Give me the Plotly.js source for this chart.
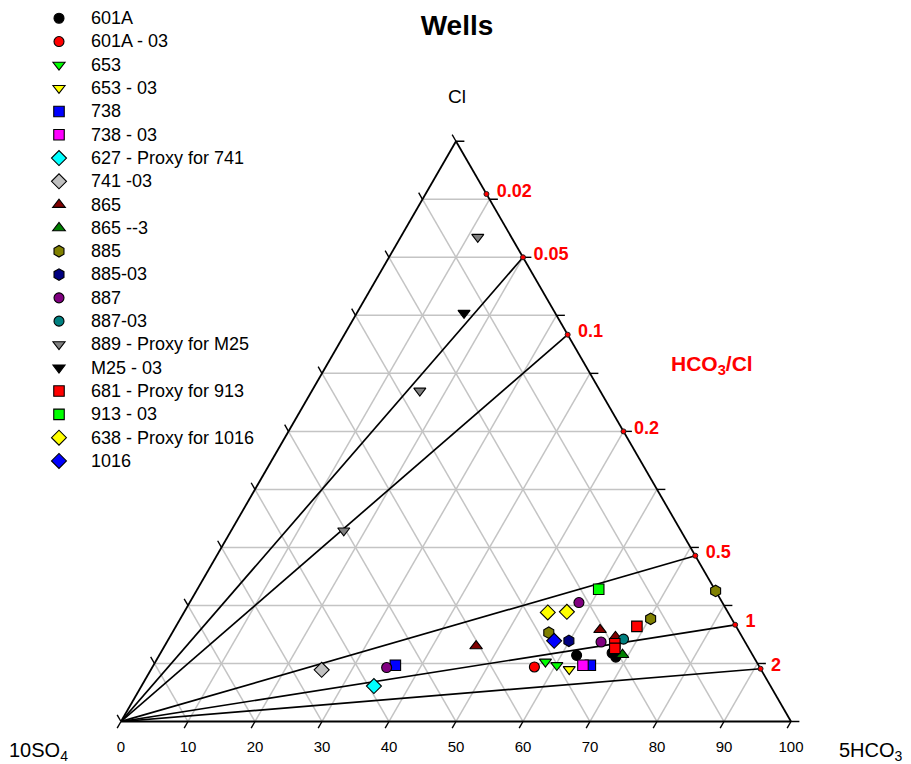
<!DOCTYPE html>
<html>
<head>
<meta charset="utf-8">
<script src="https://cdn.plot.ly/plotly-3.0.1.min.js"></script>
<style>
  html, body { margin: 0; padding: 0; background: #ffffff; }
  #chart { width: 911px; height: 764px; }
</style>
</head>
<body>
<div id="chart"></div>
<script>
// Well samples, each point given as [Cl, 10SO4, 5HCO3] in percent of the sum
const s601A     = [[11.4, 26.3, 62.3], [11.8, 20.8, 67.4], [11.1, 20.6, 68.3]];
const s601A_03  = [[9.4, 33.6, 57.0]];
const s653      = [[10.3, 31.5, 58.2], [9.7, 30.1, 60.2]];
const s653_03   = [[9.0, 28.6, 62.4]];
const s738      = [[9.7, 54.2, 36.1], [9.7, 25.1, 65.2]];
const s738_03   = [[9.7, 26.2, 64.1]];
const s627      = [[6.1, 59.2, 34.7]];
const s741_03   = [[8.9, 65.6, 25.5]];
const s865      = [[13.0, 40.5, 46.5], [15.8, 20.6, 63.6], [14.6, 18.9, 66.5]];
const s865_3    = [[11.5, 19.4, 69.1]];
const s885      = [[22.5, 0.0, 77.5], [17.7, 12.1, 70.2], [15.3, 28.5, 56.2]];
const s885_03   = [[13.9, 26.2, 59.9]];
const s887      = [[20.5, 21.4, 58.1], [13.7, 21.5, 64.8], [9.3, 55.7, 35.0]];
const s887_03   = [[14.2, 17.9, 67.9]];
const s889      = [[83.5, 5.0, 11.5], [57.0, 26.9, 16.1], [32.9, 50.3, 16.8]];
const sM25_03   = [[70.4, 13.6, 16.0]];
const s681      = [[16.4, 14.8, 68.8], [13.4, 19.6, 67.0], [12.6, 20.0, 67.4]];
const s913_03   = [[22.8, 17.3, 59.9]];
const s638      = [[18.8, 26.9, 54.3], [18.9, 24.0, 57.1]];
const s1016     = [[13.9, 28.4, 57.7]];

const seriesNames = [
  '601A', '601A - 03', '653', '653 - 03', '738', '738 - 03',
  '627 - Proxy for 741', '741 -03', '865', '865 --3', '885', '885-03',
  '887', '887-03', '889 - Proxy for M25', 'M25 - 03',
  '681 - Proxy for 913', '913 - 03', '638 - Proxy for 1016', '1016'
];
const seriesData = [
  s601A, s601A_03, s653, s653_03, s738, s738_03,
  s627, s741_03, s865, s865_3, s885, s885_03,
  s887, s887_03, s889, sM25_03,
  s681, s913_03, s638, s1016
];

// Marker styling per series
const seriesSymbols = [
  'circle', 'circle', 'triangle-down', 'triangle-down', 'square', 'square',
  'diamond', 'diamond', 'triangle-up', 'triangle-up', 'hexagon', 'hexagon',
  'circle', 'circle', 'triangle-down', 'triangle-down',
  'square', 'square', 'diamond', 'diamond'
];
const seriesColors = [
  '#000000', '#ff0000', '#00ff00', '#ffff00', '#0000ff', '#ff00ff',
  '#00ffff', '#c0c0c0', '#800000', '#008000', '#808000', '#000080',
  '#800080', '#008080', '#808080', '#000000',
  '#ff0000', '#00ff00', '#ffff00', '#0000ff'
];
const symbolSizes = {
  'circle': 10, 'square': 10.5, 'diamond': 11.5, 'hexagon': 11.5,
  'triangle-up': 11, 'triangle-down': 10.5
};

// HCO3/Cl ratio guides on the Cl-5HCO3 edge
const hco3ClRatios = [0.02, 0.05, 0.1, 0.2, 0.5, 1, 2];
const ratioLabels  = ['0.02', '0.05', '0.1', '0.2', '0.5', '1', '2'];
const ratioRays    = [0.05, 0.1, 0.5, 1, 2];

// Scale values along each edge (percent)
const edgeTickValues = [0, 10, 20, 30, 40, 50, 60, 70, 80, 90, 100];

const FIG_W = 911, FIG_H = 764;
const SUM = 100;
const FONT = 'Liberation Sans, Arial, Helvetica, sans-serif';
const SQ3 = Math.sqrt(3) / 2;

// Triangle placement on the page: base-left corner and side length (px)
const ORIGIN_X = 121, ORIGIN_Y = 721.5, SIDE = 670;
const PX = SIDE / SUM;                 // pixels per percent
const TRI_H = SIDE * SQ3;

// Companion cartesian frame sharing the triangle's scale, used for edge ticks and labels
const X_RANGE = [-15, 115];
const Y_RANGE = [-5, 100];
const xDom = [(ORIGIN_X + X_RANGE[0] * PX) / FIG_W, (ORIGIN_X + X_RANGE[1] * PX) / FIG_W];
const yDom = [1 - (ORIGIN_Y - Y_RANGE[0] * PX) / FIG_H, 1 - (ORIGIN_Y - Y_RANGE[1] * PX) / FIG_H];

// Ternary (Cl, 10SO4, 5HCO3) -> cartesian position in percent units
function toXY(cl, so4, hco3) {
  const s = cl + so4 + hco3;
  const a = cl * SUM / s, c = hco3 * SUM / s;
  return [c + a / 2, a * SQ3];
}

// Point on the Cl-5HCO3 edge where 5HCO3 / (5 * Cl) equals the ratio
function ratioPoint(r) {
  const cl = SUM / (1 + 5 * r);
  return { a: cl, b: 0, c: SUM - cl };
}

const traces = [];

// Rays from the 10SO4 corner to the ratio points
const rayA = [], rayB = [], rayC = [];
ratioRays.forEach(r => {
  const p = ratioPoint(r);
  rayA.push(0, p.a, null);
  rayB.push(SUM, p.b, null);
  rayC.push(0, p.c, null);
});
traces.push({
  type: 'scatterternary', mode: 'lines',
  a: rayA, b: rayB, c: rayC,
  line: { color: '#000000', width: 1.7 },
  connectgaps: false, showlegend: false, hoverinfo: 'skip'
});

// Edge ticks: short outward strokes continuing the grid directions
const SLANT_LEN = 1.15, FLAT_LEN = 1.25;
const tickX = [], tickY = [];
edgeTickValues.forEach(v => {
  // base edge (5HCO3 scale): down-left along constant-5HCO3 lines
  let p = toXY(0, SUM - v, v);
  tickX.push(p[0], p[0] - SLANT_LEN * 0.5, null);
  tickY.push(p[1], p[1] - SLANT_LEN * SQ3, null);
  // left edge (10SO4 scale): up-left along constant-10SO4 lines
  p = toXY(SUM - v, v, 0);
  tickX.push(p[0], p[0] - SLANT_LEN * 0.5, null);
  tickY.push(p[1], p[1] + SLANT_LEN * SQ3, null);
  // right edge (Cl scale): horizontal along constant-Cl lines
  p = toXY(v, 0, SUM - v);
  tickX.push(p[0], p[0] + FLAT_LEN, null);
  tickY.push(p[1], p[1], null);
});
traces.push({
  type: 'scatter', mode: 'lines', xaxis: 'x', yaxis: 'y',
  x: tickX, y: tickY, connectgaps: false,
  line: { color: '#000000', width: 1.4 },
  showlegend: false, hoverinfo: 'skip'
});

// Ratio labels beside the edge points
const LABEL_DX = 1.55, LABEL_DY = 0.3;
const ratioXY = hco3ClRatios.map(r => {
  const p = ratioPoint(r);
  return toXY(p.a, p.b, p.c);
});
traces.push({
  type: 'scatter', mode: 'text', xaxis: 'x', yaxis: 'y',
  x: ratioXY.map(p => p[0] + LABEL_DX), y: ratioXY.map(p => p[1] + LABEL_DY),
  text: ratioLabels, textposition: 'middle right', cliponaxis: false,
  textfont: { family: FONT, size: 18, color: '#ff0000', weight: 'bold' },
  showlegend: false, hoverinfo: 'skip'
});

// Ratio end points on the edge
const ratioPts = hco3ClRatios.map(ratioPoint);
traces.push({
  type: 'scatterternary', mode: 'markers',
  a: ratioPts.map(p => p.a), b: ratioPts.map(p => p.b), c: ratioPts.map(p => p.c),
  cliponaxis: false,
  marker: { symbol: 'circle', size: 5, color: '#ff0000', line: { color: '#202020', width: 1 } },
  showlegend: false, hoverinfo: 'skip'
});

// Sample series
seriesNames.forEach((name, i) => {
  const pts = seriesData[i];
  traces.push({
    type: 'scatterternary', mode: 'markers',
    name: '<span style="font-size:18px">' + name + '</span>',
    legendgroup: name,
    a: pts.map(p => p[0]), b: pts.map(p => p[1]), c: pts.map(p => p[2]),
    cliponaxis: false,
    marker: {
      symbol: seriesSymbols[i], size: symbolSizes[seriesSymbols[i]],
      color: seriesColors[i], line: { color: '#000000', width: 1.1 }
    }
  });
});

const ternAxis = {
  showgrid: true, gridcolor: '#c4c4c4', gridwidth: 1.5,
  showline: true, linecolor: '#000000', linewidth: 1.8,
  tickmode: 'array', tickvals: edgeTickValues,
  ticks: '', showticklabels: false, layer: 'below traces',
  title: { text: '' }
};

const layout = {
  width: FIG_W, height: FIG_H,
  margin: { l: 0, r: 0, t: 0, b: 0 },
  paper_bgcolor: '#ffffff',
  plot_bgcolor: 'rgba(0,0,0,0)',
  font: { family: FONT, color: '#000000' },
  title: {
    text: 'Wells', x: 457 / FIG_W, xanchor: 'center',
    y: 1 - 25 / FIG_H, yanchor: 'middle', xref: 'paper', yref: 'container',
    font: { family: FONT, size: 28, weight: 'bold', color: '#000000' }
  },
  ternary: {
    sum: SUM,
    domain: {
      x: [ORIGIN_X / FIG_W, (ORIGIN_X + SIDE) / FIG_W],
      y: [1 - ORIGIN_Y / FIG_H, 1 - (ORIGIN_Y - TRI_H) / FIG_H]
    },
    bgcolor: 'rgba(0,0,0,0)',
    aaxis: Object.assign({}, ternAxis),
    baxis: Object.assign({}, ternAxis),
    caxis: Object.assign({}, ternAxis)
  },
  xaxis: {
    domain: xDom, range: X_RANGE, anchor: 'free', position: 1 - ORIGIN_Y / FIG_H,
    tickmode: 'array', tickvals: edgeTickValues,
    ticks: 'outside', ticklen: 11, tickcolor: 'rgba(0,0,0,0)',
    showline: false, showgrid: false, zeroline: false, fixedrange: true,
    tickfont: { family: FONT, size: 15, color: '#000000' }
  },
  yaxis: {
    domain: yDom, range: Y_RANGE, visible: false, fixedrange: true
  },
  showlegend: true,
  legend: {
    x: 27 / FIG_W, xanchor: 'left', y: 1 - 2 / FIG_H, yanchor: 'top',
    bgcolor: 'rgba(0,0,0,0)', borderwidth: 0,
    font: { family: FONT, size: 15, color: '#000000' },
    traceorder: 'grouped', tracegroupgap: 0.8, itemwidth: 54
  },
  annotations: [
    { text: 'Cl', x: 457 / FIG_W, y: 1 - 97 / FIG_H, xref: 'paper', yref: 'paper',
      xanchor: 'center', yanchor: 'middle', showarrow: false,
      font: { family: FONT, size: 19, color: '#000000' } },
    { text: 'HCO<sub>3</sub>/Cl', x: 669 / FIG_W, y: 1 - 365 / FIG_H, xref: 'paper', yref: 'paper',
      xanchor: 'left', yanchor: 'middle', showarrow: false,
      font: { family: FONT, size: 21, color: '#ff0000', weight: 'bold' } },
    { text: '10SO<sub>4</sub>', x: 7 / FIG_W, y: 1 - 751 / FIG_H, xref: 'paper', yref: 'paper',
      xanchor: 'left', yanchor: 'middle', showarrow: false,
      font: { family: FONT, size: 20, color: '#000000' } },
    { text: '5HCO<sub>3</sub>', x: 837 / FIG_W, y: 1 - 751 / FIG_H, xref: 'paper', yref: 'paper',
      xanchor: 'left', yanchor: 'middle', showarrow: false,
      font: { family: FONT, size: 20, color: '#000000' } }
  ]
};

Plotly.newPlot('chart', traces, layout, { displayModeBar: false, staticPlot: true });
</script>
</body>
</html>
